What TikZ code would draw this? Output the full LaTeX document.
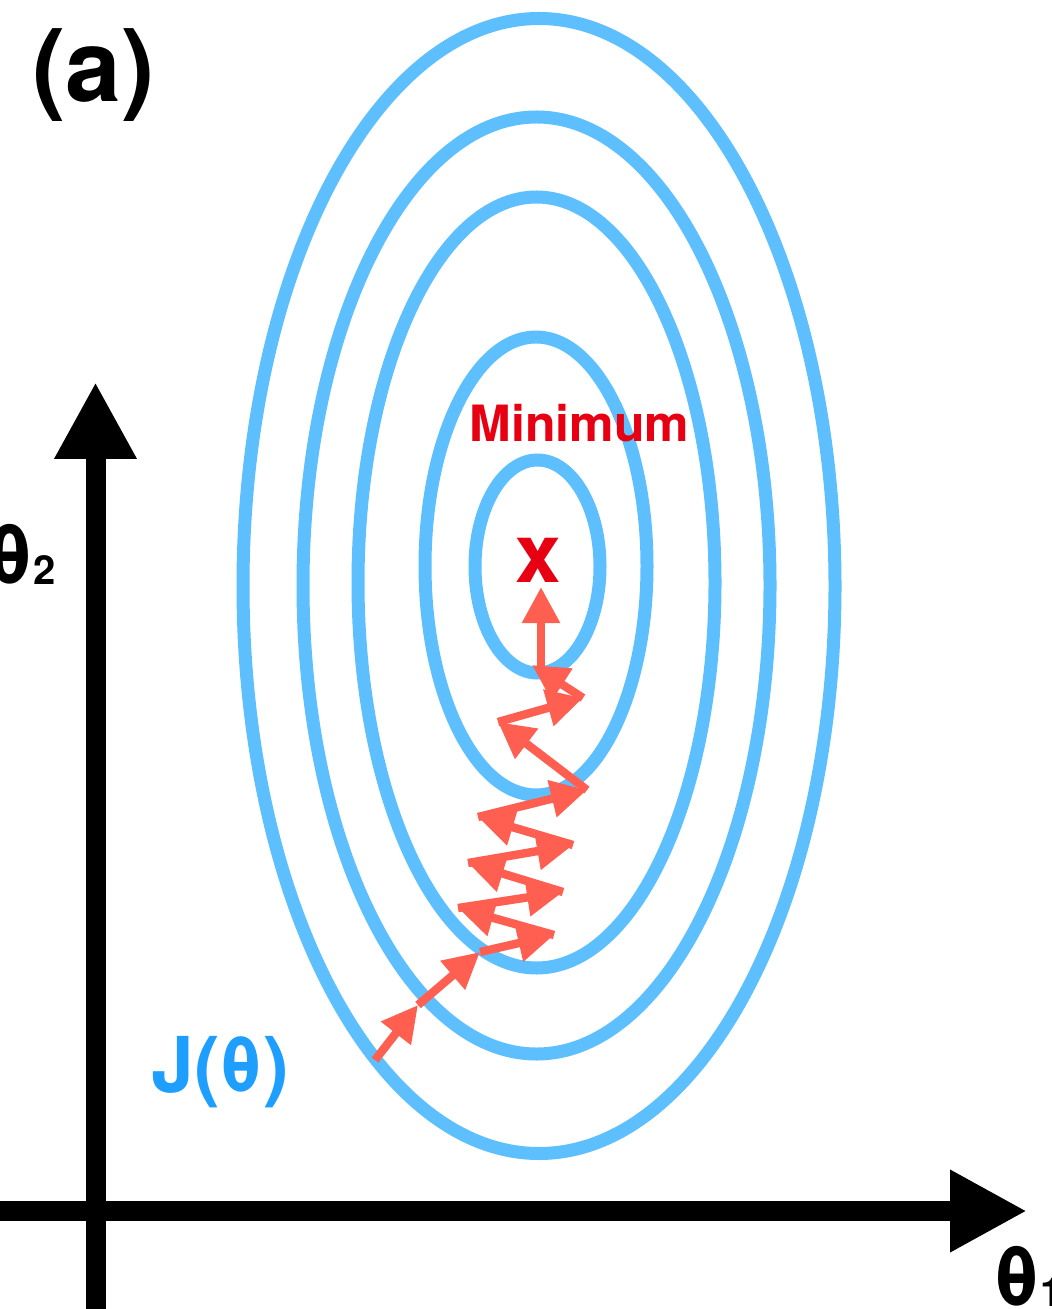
\documentclass[tikz,border=0pt]{standalone}
\usepackage{fontspec}
\setmainfont{TeX Gyre Heros}
\usetikzlibrary{arrows.meta}
\definecolor{contour}{RGB}{94,191,255}
\definecolor{jblue}{RGB}{30,158,255}
\definecolor{stepred}{RGB}{255,95,80}
\definecolor{minred}{RGB}{230,0,18}
\begin{document}
\begin{tikzpicture}[x=0.5pt,y=-0.5pt,
  contourline/.style={draw=contour,line width=6.5pt},
  axisline/.style={line width=10pt,-{Triangle[length=38.5pt,width=38.5pt]}},
  gradstep/.style={draw=stepred,line width=4.2pt,-{Triangle[length=18pt,width=18pt]}},
  lbl/.style={inner sep=0pt,font=\bfseries}]
\useasboundingbox (0,0) rectangle (1051,1309);

% contours
\draw[contourline] (537.5,566.5) ellipse [x radius=31.25pt, y radius=53.25pt];
\draw[contourline] (536,566) ellipse [x radius=55.5pt, y radius=114.5pt];
\draw[contourline] (536.5,582.5) ellipse [x radius=89.25pt, y radius=192.75pt];
\draw[contourline] (536.5,585.5) ellipse [x radius=116.75pt, y radius=234.25pt];
\draw[contourline] (539,586) ellipse [x radius=148pt, y radius=283.75pt];

% axes
\coordinate (ybot) at (95.5,1330);
\coordinate (ytop) at (95.5,382);
\coordinate (xleft) at (-20,1211);
\coordinate (xright) at (1027,1211);
\draw[axisline] (ybot) -- (ytop);
\draw[axisline] (xleft) -- (xright);

% gradient steps
\coordinate (p0) at (375,1060);
\coordinate (p1) at (418,1005);
\coordinate (p2) at (480,952);
\coordinate (p3) at (554,935);
\coordinate (p4) at (458,908);
\coordinate (p5) at (563,892);
\coordinate (p6) at (468,863);
\coordinate (p7) at (573,845);
\coordinate (p8) at (478,817);
\coordinate (p9) at (587,790);
\coordinate (p10) at (498,722);
\coordinate (p11) at (583,698);
\coordinate (p12) at (532,665);
\coordinate (p13) at (541,668);
\coordinate (p14) at (541,587);
\draw[gradstep] (p0) -- (p1);
\draw[gradstep] (p1) -- (p2);
\draw[gradstep] (p2) -- (p3);
\draw[gradstep] (p3) -- (p4);
\draw[gradstep] (p4) -- (p5);
\draw[gradstep] (p5) -- (p6);
\draw[gradstep] (p6) -- (p7);
\draw[gradstep] (p7) -- (p8);
\draw[gradstep] (p8) -- (p9);
\draw[gradstep] (p9) -- (p10);
\draw[gradstep] (p10) -- (p11);
\draw[gradstep] (p11) -- (p12);
\draw[gradstep] (p13) -- (p14);

% labels
\node[lbl,anchor=base] (panel) at (93.5,102) {\fontsize{50pt}{50pt}\selectfont (a)};
\node[lbl,anchor=base,text=minred] (minlbl) at (579.5,442) {\fontsize{25pt}{25pt}\selectfont Minimum};
\node[lbl,anchor=base,text=minred] (minx) at (538,582) {\fontsize{41pt}{41pt}\selectfont x};
\node[lbl,anchor=base west,text=jblue] (jlbl) at (151,1092) {\fontsize{38.5pt}{38.5pt}\selectfont J(θ)};
\node[lbl,anchor=base east] (t2) at (56,584) {\fontsize{41.5pt}{41.5pt}\selectfont θ\fontsize{20pt}{20pt}\selectfont 2};
\node[lbl,anchor=base west] (t1) at (993,1306) {\fontsize{41.5pt}{41.5pt}\selectfont θ\fontsize{20pt}{20pt}\selectfont 1};
\end{tikzpicture}
\end{document}
